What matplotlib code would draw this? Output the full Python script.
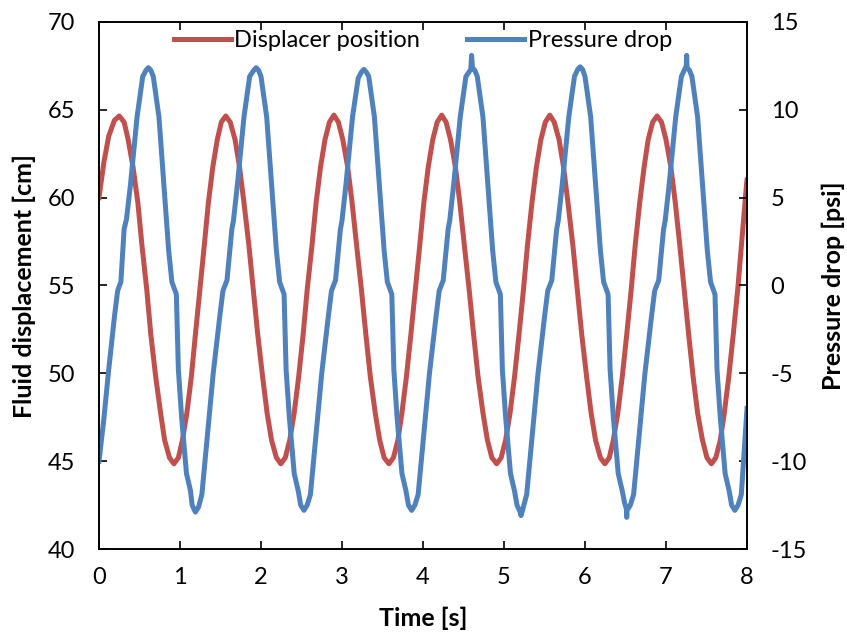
import matplotlib.pyplot as plt

plt.rcParams['font.family'] = ['Lato', 'DejaVu Sans']
plt.rcParams['axes.unicode_minus'] = False

# displacer position [cm]
t_disp = [0.00, 0.06, 0.12, 0.19,
          0.25, 0.31, 0.36, 0.42, 0.48, 0.53, 0.59, 0.64, 0.70, 0.76, 0.81, 0.87, 0.925,
          0.98, 1.03, 1.085, 1.14, 1.19, 1.245, 1.30, 1.35, 1.405, 1.46, 1.51, 1.565,
          1.62, 1.68, 1.735, 1.79, 1.85, 1.905, 1.96, 2.02, 2.075, 2.13, 2.19, 2.245,
          2.30, 2.355, 2.41, 2.465, 2.52, 2.57, 2.63, 2.68, 2.735, 2.79, 2.845, 2.90,
          2.955, 3.01, 3.07, 3.125, 3.18, 3.24, 3.295, 3.35, 3.41, 3.465, 3.52, 3.58,
          3.635, 3.69, 3.74, 3.795, 3.85, 3.905, 3.96, 4.01, 4.065, 4.12, 4.175, 4.23,
          4.285, 4.34, 4.40, 4.455, 4.51, 4.57, 4.625, 4.68, 4.74, 4.795, 4.85, 4.91,
          4.965, 5.02, 5.075, 5.13, 5.185, 5.24, 5.29, 5.345, 5.40, 5.455, 5.51, 5.565,
          5.62, 5.68, 5.735, 5.79, 5.85, 5.905, 5.96, 6.02, 6.075, 6.13, 6.19, 6.245,
          6.30, 6.35, 6.405, 6.46, 6.515, 6.57, 6.62, 6.675, 6.73, 6.78, 6.835, 6.89,
          6.945, 7.00, 7.06, 7.115, 7.17, 7.225, 7.28, 7.335, 7.39, 7.45, 7.505, 7.56,
          7.615, 7.67, 7.72, 7.775, 7.83, 7.885, 7.94, 7.995, 8.00]
disp = [60.0, 62.0, 63.5, 64.4,
        64.65, 64.3, 63.3, 61.75, 59.7, 57.3, 54.75, 52.2, 49.8, 47.75, 46.2, 45.2, 44.85,
        45.2, 46.2, 47.75, 49.8, 52.2, 54.75, 57.3, 59.7, 61.75, 63.3, 64.3, 64.65,
        64.3, 63.3, 61.75, 59.7, 57.3, 54.75, 52.2, 49.8, 47.75, 46.2, 45.2, 44.85,
        45.2, 46.2, 47.75, 49.8, 52.2, 54.75, 57.3, 59.7, 61.75, 63.3, 64.3, 64.7,
        64.3, 63.3, 61.75, 59.7, 57.3, 54.75, 52.2, 49.8, 47.75, 46.2, 45.2, 44.85,
        45.2, 46.2, 47.75, 49.8, 52.2, 54.75, 57.3, 59.7, 61.75, 63.3, 64.3, 64.7,
        64.3, 63.3, 61.75, 59.7, 57.3, 54.75, 52.2, 49.8, 47.75, 46.2, 45.2, 44.85,
        45.2, 46.2, 47.75, 49.8, 52.2, 54.75, 57.3, 59.7, 61.75, 63.3, 64.3, 64.7,
        64.3, 63.3, 61.75, 59.7, 57.3, 54.75, 52.2, 49.8, 47.75, 46.2, 45.2, 44.85,
        45.2, 46.2, 47.75, 49.8, 52.2, 54.75, 57.3, 59.7, 61.75, 63.3, 64.3, 64.65,
        64.3, 63.3, 61.75, 59.7, 57.3, 54.75, 52.2, 49.8, 47.75, 46.2, 45.2, 44.85,
        45.2, 46.2, 47.75, 49.8, 52.2, 54.75, 57.8, 60.8, 61.0]

# pressure drop [psi]
t_pres = [0.00, 0.06, 0.115, 0.19, 0.23, 0.27, 0.31, 0.34, 0.39, 0.47, 0.54, 0.58, 0.61,
          0.64, 0.67, 0.74, 0.80, 0.86, 0.90, 0.955, 0.98, 1.02, 1.08, 1.13, 1.15, 1.19,
          1.23, 1.27, 1.36, 1.41, 1.49, 1.53, 1.58, 1.64, 1.66, 1.71, 1.79, 1.86, 1.91, 1.94,
          1.97, 2.00, 2.07, 2.13, 2.19, 2.23, 2.285, 2.31, 2.35, 2.41, 2.46, 2.49, 2.53,
          2.57, 2.61, 2.70, 2.75, 2.83, 2.87, 2.92, 2.98, 3.00, 3.05, 3.13, 3.20, 3.24, 3.27,
          3.30, 3.33, 3.40, 3.46, 3.52, 3.56, 3.615, 3.64, 3.68, 3.74, 3.79, 3.82, 3.86,
          3.90, 3.94, 4.03, 4.08, 4.16, 4.20, 4.25, 4.31, 4.33, 4.38, 4.46, 4.53, 4.59, 4.60, 4.61,
          4.64, 4.67, 4.74, 4.80, 4.86, 4.90, 4.955, 4.98, 5.02, 5.08, 5.13, 5.16, 5.20, 5.21,
          5.24, 5.28, 5.37, 5.42, 5.50, 5.54, 5.59, 5.65, 5.67, 5.72, 5.80, 5.87, 5.91, 5.94,
          5.97, 6.00, 6.07, 6.13, 6.19, 6.23, 6.285, 6.31, 6.35, 6.41, 6.46, 6.49, 6.51, 6.515, 6.52,
          6.56, 6.60, 6.69, 6.74, 6.82, 6.86, 6.91, 6.97, 6.99, 7.04, 7.12, 7.19, 7.23, 7.25, 7.255, 7.26,
          7.29, 7.32, 7.39, 7.45, 7.51, 7.55, 7.605, 7.63, 7.67, 7.73, 7.78, 7.81, 7.85,
          7.89, 7.93, 8.00]
pres = [-10.0, -7.6, -5.0, -1.8, -0.3, 0.2, 3.2, 3.8, 5.8, 9.6, 11.9, 12.25, 12.4,
        12.25, 11.9, 9.6, 5.8, 2.0, 0.2, -0.5, -4.8, -7.5, -10.7, -11.7, -12.5, -12.9,
        -12.6, -11.9, -7.5, -5.0, -1.8, -0.3, 0.3, 3.2, 3.7, 5.8, 9.6, 11.9, 12.25, 12.4,
        12.25, 11.9, 9.6, 5.8, 2.0, 0.2, -0.5, -4.8, -7.5, -10.7, -11.7, -12.5, -12.8,
        -12.5, -11.9, -7.5, -5.0, -1.8, -0.3, 0.3, 3.2, 3.7, 5.8, 9.6, 11.8, 12.15, 12.3,
        12.15, 11.9, 9.6, 5.8, 2.0, 0.2, -0.5, -4.8, -7.5, -10.7, -11.7, -12.5, -12.8,
        -12.5, -11.9, -7.5, -5.0, -1.8, -0.3, 0.3, 3.2, 3.7, 5.8, 9.6, 11.9, 12.3, 13.1, 12.4,
        12.25, 11.9, 9.6, 5.8, 2.0, 0.2, -0.5, -4.8, -7.5, -10.7, -11.7, -12.5, -12.9, -13.1,
        -12.6, -11.9, -7.5, -5.0, -1.8, -0.3, 0.3, 3.2, 3.7, 5.8, 9.6, 11.9, 12.3, 12.45,
        12.3, 11.9, 9.6, 5.8, 2.0, 0.2, -0.5, -4.8, -7.5, -10.7, -11.7, -12.4, -12.7, -13.2, -12.8,
        -12.5, -11.9, -7.5, -5.0, -1.8, -0.3, 0.3, 3.2, 3.7, 5.8, 9.6, 11.9, 12.3, 12.5, 13.1, 12.4,
        12.25, 11.9, 9.6, 5.8, 2.0, 0.2, -0.5, -4.8, -7.5, -10.7, -11.7, -12.5, -12.8,
        -12.5, -11.9, -7.0]

red = '#C0504D'
blue = '#4F81BD'

fig = plt.figure(figsize=(8.47, 6.37), dpi=100)
ax1 = fig.add_axes([99/847, 88/637, 648/847, 527/637])
ax2 = ax1.twinx()

l1, = ax1.plot(t_disp, disp, color=red, lw=3.6, solid_joinstyle='round')
l2, = ax2.plot(t_pres, pres, color=blue, lw=3.6, solid_joinstyle='round')

ax1.set_xlim(0, 8)
ax1.set_ylim(40, 70)
ax2.set_ylim(-15, 15)
ax1.set_xticks(range(0, 9))
ax1.set_yticks(range(40, 71, 5))
ax2.set_yticks(range(-15, 16, 5))

ax1.tick_params(axis='x', direction='in', length=6, width=1.2, pad=13, labelsize=17, top=True)
ax1.tick_params(axis='y', direction='in', length=6, width=1.2, pad=17, labelsize=17)
ax2.tick_params(axis='y', direction='in', length=6, width=1.2, pad=17, labelsize=17)
for ax in (ax1, ax2):
    for s in ax.spines.values():
        s.set_linewidth(1.2)

ax1.set_xlabel('Time [s]', fontsize=18, fontweight='bold')
ax1.set_ylabel('Fluid displacement [cm]', fontsize=18, fontweight='bold')
ax2.set_ylabel('Pressure drop [psi]', fontsize=18, fontweight='bold')
ax1.xaxis.set_label_coords(0.5, -0.11)
ax1.yaxis.set_label_coords(-0.097, 0.5)
ax2.yaxis.set_label_coords(1.115, 0.5)

ax2.legend([l1, l2], ['Displacer position', 'Pressure drop'], loc='upper center',
           bbox_to_anchor=(0.5, 1.025), ncol=2, frameon=False, fontsize=17,
           handlelength=2.4, handletextpad=0.15, columnspacing=2.0)

fig.savefig('out.png', dpi=100)
